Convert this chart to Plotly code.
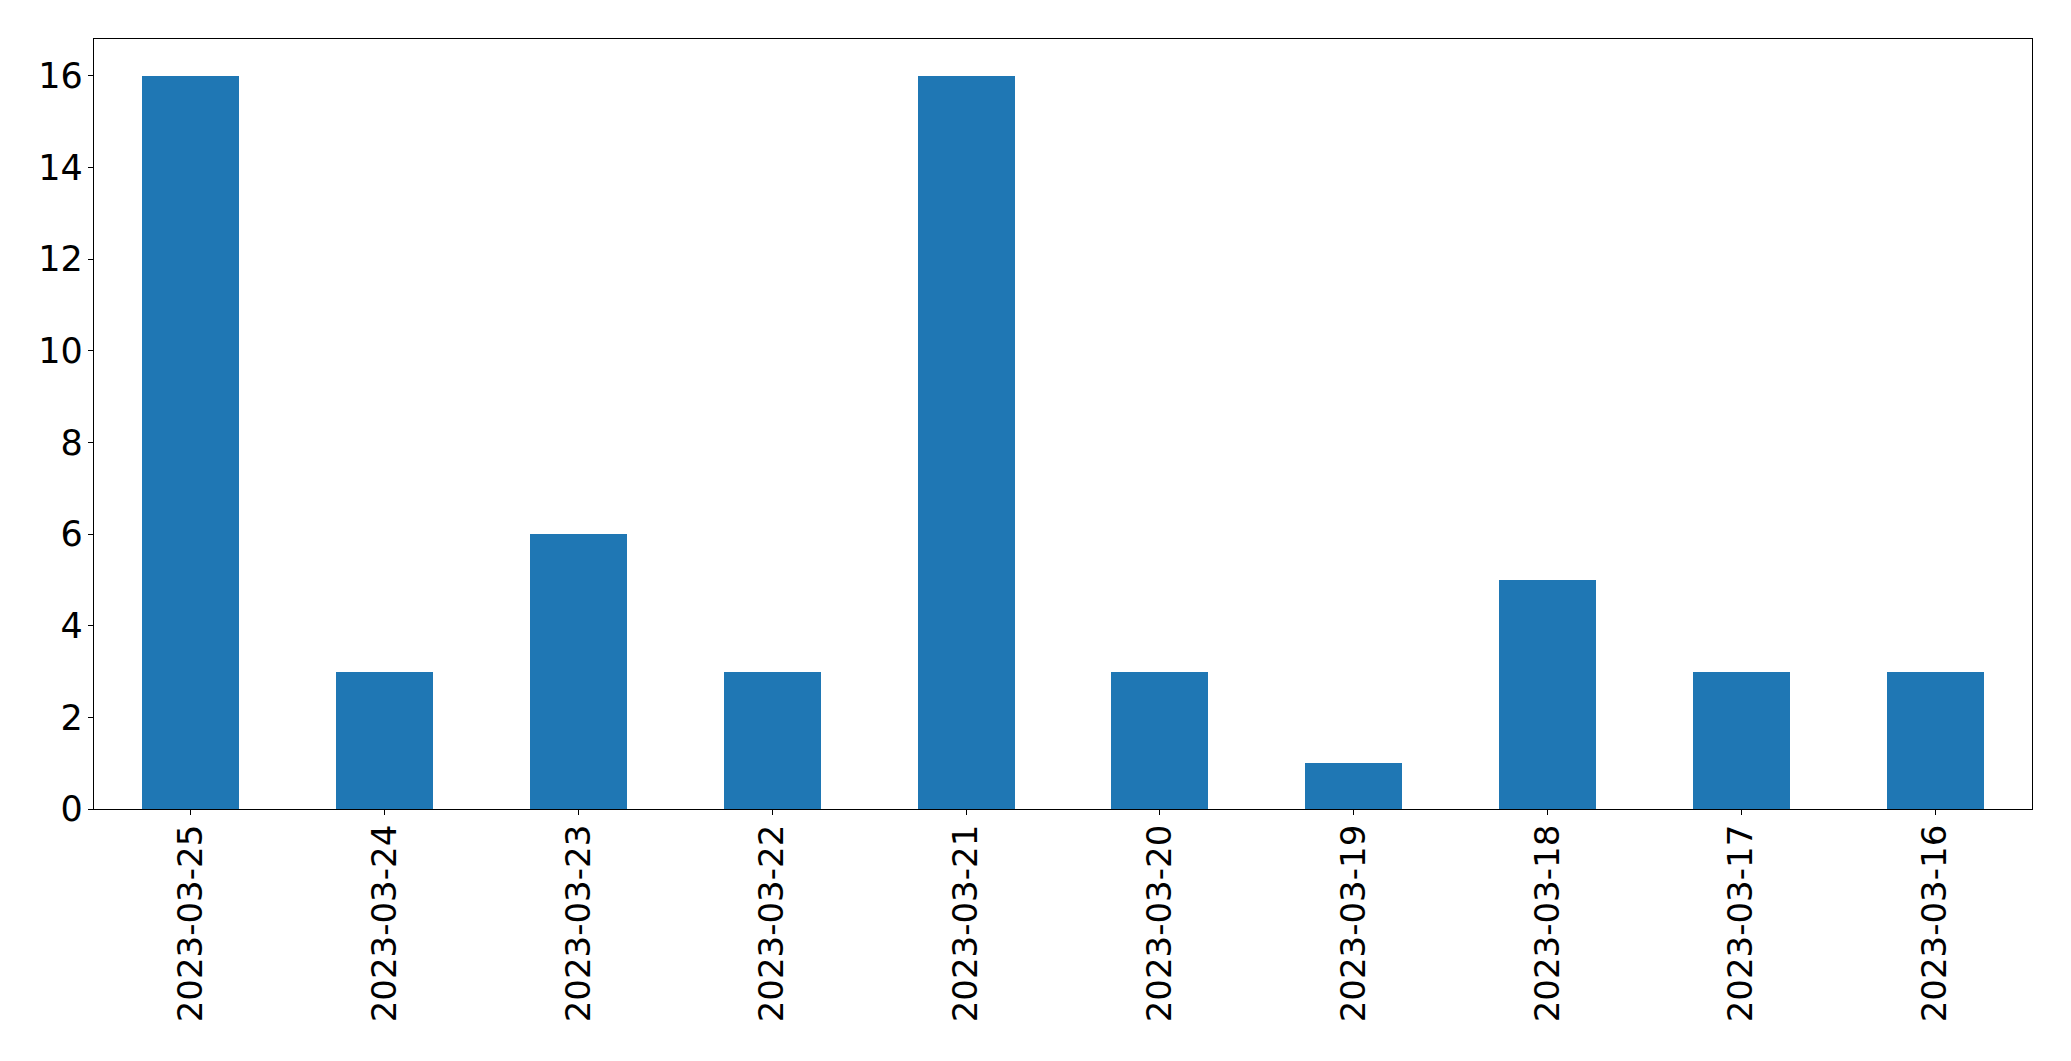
import plotly.graph_objects as go

dates = ["2023-03-25", "2023-03-24", "2023-03-23", "2023-03-22", "2023-03-21",
         "2023-03-20", "2023-03-19", "2023-03-18", "2023-03-17", "2023-03-16"]
counts = [16, 3, 6, 3, 16, 3, 1, 5, 3, 3]
y_ticks = [0, 2, 4, 6, 8, 10, 12, 14, 16]

fig = go.Figure()
fig.add_trace(go.Bar(
    x=list(range(len(dates))), y=counts, width=0.5,
    marker=dict(color="#1f77b4", line=dict(width=0)),
))

fig.update_layout(
    width=2071, height=1061,
    margin=dict(l=94, r=39, t=39, b=252),
    plot_bgcolor="white", paper_bgcolor="white",
    showlegend=False, bargap=0,
)
fig.update_xaxes(
    range=[-0.5, len(dates) - 0.5],
    tickmode="array", tickvals=list(range(len(dates))), ticktext=dates,
    tickangle=-90, tickfont=dict(family="DejaVu Sans", size=34, color="black"),
    ticklabelstandoff=-4,
    showline=True, linecolor="black", linewidth=1.3, mirror=True,
    ticks="outside", ticklen=5, tickcolor="black", tickwidth=1.3,
    showgrid=False, zeroline=False,
)
fig.update_yaxes(
    range=[0, 16.8],
    tickmode="array", tickvals=y_ticks, ticktext=[str(v) for v in y_ticks],
    tickfont=dict(family="DejaVu Sans", size=35, color="black"),
    ticklabelstandoff=-2,
    showline=True, linecolor="black", linewidth=1.3, mirror=True,
    ticks="outside", ticklen=5, tickcolor="black", tickwidth=1.3,
    showgrid=False, zeroline=False,
)
fig.write_html(
    "out.html",
    config={"displayModeBar": False},
    post_script="document.body.style.margin='0';document.body.style.overflow='hidden';",
)
